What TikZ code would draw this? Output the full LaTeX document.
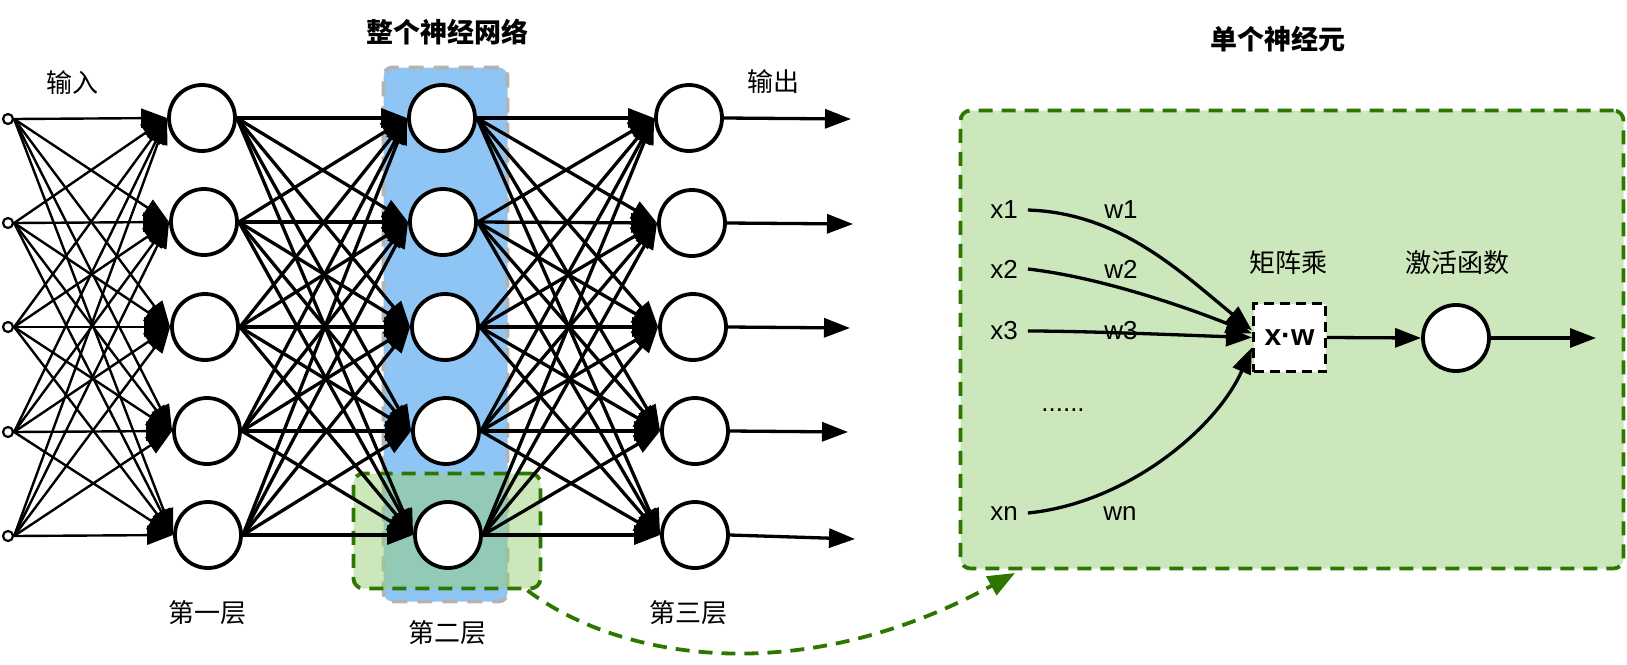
\documentclass[tikz,border=0pt]{standalone}
\usepackage{fontspec}
\setmainfont{Liberation Sans}
\newfontfamily\cjk{Noto Sans CJK SC}
\usetikzlibrary{arrows.meta}
\definecolor{LayerBlue}{HTML}{8FC5F5}
\definecolor{LayerBorder}{HTML}{B3B3B3}
\definecolor{CellGreen}{HTML}{97D077}
\definecolor{CellBorder}{HTML}{2D7600}

\begin{document}
\begin{tikzpicture}[x=1pt,y=-1pt,
    neuron/.style={circle,draw,line width=3.8pt,fill=white,minimum size=66pt,inner sep=0pt},
    inpt/.style={circle,draw,line width=2.2pt,fill=white,minimum size=10pt,inner sep=0pt},
    inedge/.style={line width=2.4pt,-{Triangle[length=26pt,width=19pt]}},
    edge/.style={line width=3.3pt,-{Triangle[length=26pt,width=19pt]}},
    lbl/.style={font=\cjk\fontsize{26}{30}\selectfont,inner sep=0pt},
    title/.style={font=\cjk\bfseries\fontsize{27}{30}\selectfont,inner sep=0pt},
    txt/.style={font=\fontsize{26}{30}\selectfont,inner sep=0pt}]
        \useasboundingbox (0,0) rectangle (1627,664);

        % boxes behind the network
        \node[draw=CellBorder,fill=CellGreen!50!white,line width=3.8pt,dash pattern=on 14pt off 9pt,
              rounded corners=10pt,minimum width=663pt,minimum height=458pt] (cell) at (1292,339.5) {};
        \node[draw=LayerBorder,fill=LayerBlue,line width=3.8pt,dash pattern=on 15pt off 10pt,
              rounded corners=9pt,minimum width=124pt,minimum height=534pt] (layer) at (445.5,334.5) {};
        \node[draw=CellBorder,fill=CellGreen,fill opacity=0.5,line width=3.8pt,dash pattern=on 14pt off 9pt,
              rounded corners=10pt,minimum width=187pt,minimum height=115pt] (sel) at (447,531) {};

        % input points
        \node[inpt] (p1) at (8,119) {};
        \node[inpt] (p2) at (8,223) {};
        \node[inpt] (p3) at (8,327) {};
        \node[inpt] (p4) at (8,432) {};
        \node[inpt] (p5) at (8,536) {};

        % three layers
        \node[neuron] (a1) at (202,118) {};
        \node[neuron] (a2) at (204,222) {};
        \node[neuron] (a3) at (205,327) {};
        \node[neuron] (a4) at (207,431) {};
        \node[neuron] (a5) at (208,535) {};
        \node[neuron] (b1) at (442,118) {};
        \node[neuron] (b2) at (443,222) {};
        \node[neuron] (b3) at (445,327) {};
        \node[neuron] (b4) at (446,431) {};
        \node[neuron] (b5) at (448,535) {};
        \node[neuron] (c1) at (689,118) {};
        \node[neuron] (c2) at (692,223) {};
        \node[neuron] (c3) at (693,327) {};
        \node[neuron] (c4) at (695,431) {};
        \node[neuron] (c5) at (695,535) {};

        \coordinate (o1) at (851,119);
        \coordinate (o2) at (853,224);
        \coordinate (o3) at (850,328);
        \coordinate (o4) at (848,432);
        \coordinate (o5) at (855,539);

        \foreach \i in {1,...,5}{
          \foreach \j in {1,...,5}{
            \draw[inedge] (p\i.east) -- (a\j.west);
            \draw[edge] (a\i.east) -- (b\j.west);
            \draw[edge] (b\i.east) -- (c\j.west);
          }
          \draw[edge] (c\i.east) -- (o\i);
        }

        \node[lbl] (inlbl) at (72,83) {输入};
        \node[lbl] (outlbl) at (773,82) {输出};
        \node[lbl] (l1lbl) at (207,613) {第一层};
        \node[lbl] (l2lbl) at (447,633) {第二层};
        \node[lbl] (l3lbl) at (688,613) {第三层};
        \node[title] (nettitle) at (447,32) {整个神经网络};
        \node[title] (celltitle) at (1278,39) {单个神经元};

        % single neuron
        \node[txt] (x1) at (1004,210) {x1};
        \node[txt] (x2) at (1004,269) {x2};
        \node[txt] (x3) at (1004,331) {x3};
        \node[txt] (xn) at (1004,513) {xn};
        \node[txt] (w1) at (1121,210) {w1};
        \node[txt] (w2) at (1121,269) {w2};
        \node[txt] (w3) at (1121,331) {w3};
        \node[txt] (wn) at (1120,513) {wn};
        \node[txt] (dots) at (1063,410) {......};

        \node[draw,fill=white,line width=3pt,dash pattern=on 10pt off 6pt,minimum width=72pt,minimum height=68pt,
              font=\bfseries\fontsize{30}{32}\selectfont] (mul) at (1289.5,337.5) {x·w};
        \node[neuron] (act) at (1456,338) {};
        \node[lbl] (mullbl) at (1288,263) {矩阵乘};
        \node[lbl] (actlbl) at (1457,263) {激活函数};
        \coordinate (out) at (1596,338);

        \draw[edge] ([xshift=10pt]x1.east) .. controls +(90,3) and +(-75,-62) .. ([yshift=7pt]mul.west);
        \draw[edge] ([xshift=10pt]x2.east) .. controls +(70,8) and +(-70,-28) .. ([yshift=4pt]mul.west);
        \draw[edge] ([xshift=10pt]x3.east) .. controls +(60,0) and +(-60,-2) .. (mul.west);
        \draw[edge] ([xshift=10pt]xn.east) .. controls +(100,-10) and +(-35,80) .. ([yshift=-10pt]mul.west);
        \draw[edge] (mul.east) -- (act.west);
        \draw[edge] (act.east) -- (out);

        % zoom from the layer to the single neuron
        \coordinate (cellin) at (1015,573);
        \draw[CellBorder,line width=3.8pt,dash pattern=on 14pt off 9pt,-{Triangle[length=27pt,width=21pt]}]
              ([xshift=-15pt]sel.south east) .. controls (620,660) and (800,690) .. (cellin);
\end{tikzpicture}
\end{document}
